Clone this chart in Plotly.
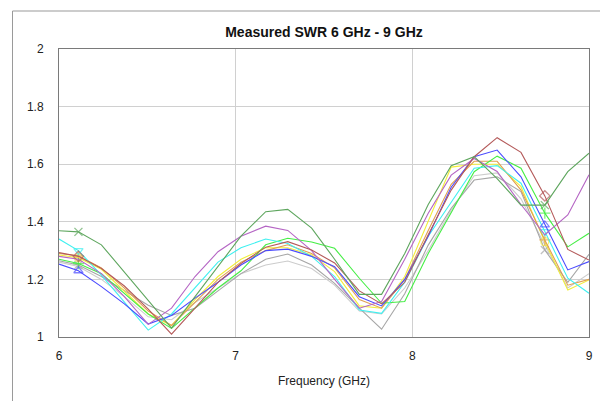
import plotly.graph_objects as go

freq_ghz = [6.0, 6.11, 6.24, 6.37, 6.505, 6.637, 6.77, 6.90, 7.03, 7.17, 7.295, 7.43,
            7.56, 7.70, 7.826, 7.957, 8.09, 8.22, 8.35, 8.48, 8.615, 8.75, 8.88, 9.0]

swr_dark_green = [1.369, 1.365, 1.32, 1.225, 1.128, 1.031, 1.14, 1.245, 1.35, 1.435, 1.443, 1.378,
                  1.27, 1.148, 1.148, 1.29, 1.46, 1.595, 1.626, 1.55, 1.458, 1.458, 1.574, 1.638]
swr_brown = [1.293, 1.28, 1.238, 1.177, 1.097, 1.01, 1.10, 1.19, 1.255, 1.312, 1.331, 1.302,
             1.257, 1.16, 1.115, 1.19, 1.355, 1.51, 1.626, 1.692, 1.641, 1.49, 1.304, 1.267]
swr_orange = [1.29, 1.282, 1.24, 1.17, 1.09, 1.04, 1.12, 1.20, 1.26, 1.30, 1.32, 1.29,
              1.24, 1.13, 1.10, 1.20, 1.37, 1.53, 1.61, 1.61, 1.51, 1.337, 1.18, 1.20]
swr_yellow = [1.285, 1.275, 1.235, 1.16, 1.08, 1.04, 1.13, 1.21, 1.27, 1.31, 1.31, 1.285,
              1.227, 1.108, 1.10, 1.21, 1.40, 1.59, 1.60, 1.60, 1.522, 1.331, 1.163, 1.198]
swr_light_green = [1.27, 1.255, 1.22, 1.15, 1.08, 1.03, 1.10, 1.17, 1.23, 1.32, 1.343, 1.33,
                   1.308, 1.204, 1.117, 1.123, 1.29, 1.43, 1.574, 1.628, 1.586, 1.43, 1.313, 1.36]
swr_cyan = [1.34, 1.30, 1.215, 1.12, 1.024, 1.08, 1.17, 1.26, 1.31, 1.34, 1.325, 1.28,
            1.21, 1.094, 1.082, 1.19, 1.35, 1.47, 1.586, 1.595, 1.534, 1.366, 1.204, 1.152]
swr_blue = [1.253, 1.23, 1.175, 1.115, 1.045, 1.075, 1.135, 1.19, 1.25, 1.30, 1.305, 1.28,
            1.244, 1.14, 1.108, 1.20, 1.35, 1.52, 1.626, 1.649, 1.556, 1.389, 1.233, 1.262]
swr_purple = [1.28, 1.27, 1.22, 1.14, 1.044, 1.10, 1.21, 1.296, 1.35, 1.385, 1.37, 1.30,
              1.20, 1.10, 1.123, 1.27, 1.43, 1.562, 1.62, 1.575, 1.46, 1.355, 1.424, 1.563]
swr_grey = [1.265, 1.25, 1.21, 1.16, 1.11, 1.075, 1.10, 1.16, 1.22, 1.27, 1.288, 1.25,
            1.186, 1.10, 1.027, 1.15, 1.319, 1.447, 1.545, 1.556, 1.505, 1.302, 1.19, 1.287]
swr_light_grey = [1.26, 1.245, 1.20, 1.14, 1.07, 1.06, 1.12, 1.17, 1.22, 1.25, 1.264, 1.238,
                  1.18, 1.09, 1.08, 1.17, 1.30, 1.44, 1.56, 1.57, 1.48, 1.32, 1.17, 1.22]

x_ticks = [6, 7, 8, 9]
x_tick_labels = ["6", "7", "8", "9"]
y_ticks = [1, 1.2, 1.4, 1.6, 1.8, 2]
y_tick_labels = ["1", "1.2", "1.4", "1.6", "1.8", "2"]

series = [
    ("light grey", swr_light_grey, "#cccccc", None),
    ("grey", swr_grey, "#a6a6a6", "x-thin-open"),
    ("yellow", swr_yellow, "#f2ee3a", "circle-open"),
    ("orange", swr_orange, "#e0a050", "cross-thin-open"),
    ("light green", swr_light_green, "#45ee45", "cross-thin-open"),
    ("cyan", swr_cyan, "#3ff0f0", "triangle-down-open"),
    ("blue", swr_blue, "#4b4bff", "triangle-up-open"),
    ("purple", swr_purple, "#b565c4", None),
    ("brown", swr_brown, "#b45a5a", "diamond-open"),
    ("dark green", swr_dark_green, "#5ea65e", "x-thin-open"),
]

marker_idx = {1, 21}

fig = go.Figure()
for name, ys, color, sym in series:
    sizes = [8 if (sym and i in marker_idx) else 0 for i in range(len(freq_ghz))]
    fig.add_trace(go.Scatter(
        x=freq_ghz, y=ys, name=name, mode="lines+markers",
        line=dict(color=color, width=1.1),
        marker=dict(symbol=sym or "circle", size=sizes, color=color,
                    line=dict(color=color, width=1.3)),
        showlegend=False,
    ))

# page body has an 8px default margin, so the figure is offset by 8px
L, R, T, B = 51, 19, 41, 64
W, H = 600, 393
pw, ph = W - L - R, H - T - B

fig.update_layout(
    width=W, height=H,
    margin=dict(l=L, r=R, t=T, b=B),
    paper_bgcolor="white", plot_bgcolor="white",
    font=dict(family="Liberation Sans, Arial, sans-serif", size=12, color="#222222"),
    title=dict(text="<b>Measured SWR 6 GHz - 9 GHz</b>", x=(L + pw / 2) / W, xanchor="center",
               y=1 - 24 / H, yanchor="middle", font=dict(size=14, color="#111111")),
    xaxis=dict(range=[6, 9], tickvals=x_ticks, ticktext=x_tick_labels,
               showgrid=True, gridcolor="#d0d0d0", gridwidth=1,
               showline=True, linecolor="#7a7a7a", linewidth=1, mirror=True,
               zeroline=False, ticks="", ticklabelstandoff=8,
               title=dict(text="Frequency (GHz)", font=dict(size=12), standoff=14)),
    yaxis=dict(range=[1, 2], tickvals=y_ticks, ticktext=y_tick_labels,
               showgrid=True, gridcolor="#d0d0d0", gridwidth=1,
               showline=True, linecolor="#7a7a7a", linewidth=1, mirror=True,
               zeroline=False, ticks="", ticklabelstandoff=12),
)

# outer chart frame (left and top edges)
fx0 = (4.5 - L) / pw
fy_top = 1 + (T - 3) / ph
fy_bot = -(B) / ph
fx1 = (W - L) / pw
fig.add_shape(type="line", xref="paper", yref="paper", x0=fx0, x1=fx0, y0=fy_bot, y1=fy_top,
              line=dict(color="#9a9a9a", width=1))
fig.add_shape(type="line", xref="paper", yref="paper", x0=fx0, x1=fx1, y0=fy_top, y1=fy_top,
              line=dict(color="#9a9a9a", width=1.2))

fig.write_html("out.html")
